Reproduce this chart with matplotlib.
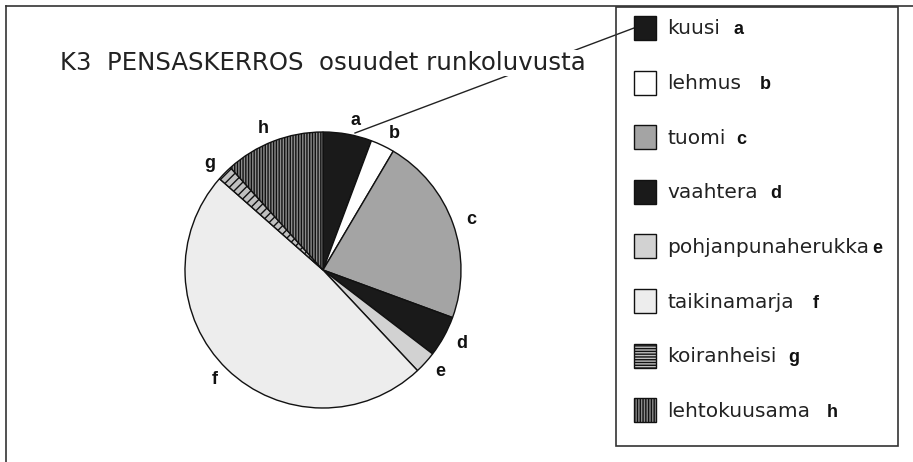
import matplotlib
matplotlib.use("Agg")
import matplotlib.pyplot as plt
from matplotlib.patches import Rectangle
from matplotlib.lines import Line2D

# ---- data ----
letters = ["a", "b", "c", "d", "e", "f", "g", "h"]
names = ["kuusi", "lehmus", "tuomi", "vaahtera", "pohjanpunaherukka",
         "taikinamarja", "koiranheisi", "lehtokuusama"]
shares = [5.7, 2.8, 22.1, 4.8, 2.6, 48.5, 1.8, 11.7]
title = "K3  PENSASKERROS  osuudet runkoluvusta"

# ---- styles ----
colors = ["#1a1a1a", "#ffffff", "#a4a4a4", "#1a1a1a", "#d2d2d2", "#ededed", "#c0c0c0", "#8c8c8c"]
pie_hatches = [None, None, None, None, None, None, "////", "||||||"]
leg_hatches = [None, None, None, None, None, None, "------", "||||||"]
letter_gaps = [14, 19, 11, 13, 3, 19, 12, 17]

W, H = 913, 462
fig = plt.figure(figsize=(W / 100, H / 100), dpi=100)
fig.patch.set_facecolor("white")

def fx(px):
    return px / W

def fy(py):
    return 1 - py / H

# outer frame (partly cropped)
fig.add_artist(Line2D([fx(6), fx(6)], [fy(6), fy(462)], color="#333333", lw=1.2))
fig.add_artist(Line2D([fx(6), fx(913)], [fy(6), fy(6)], color="#333333", lw=1.2))

# pie axes: centre (323,270), radius 138 px
R = 138
lim = 1.3
side = 2 * lim * R
ax = fig.add_axes([fx(323 - side / 2), fy(270 + side / 2), side / W, side / H])
wedges, texts = ax.pie(shares, labels=letters, colors=colors, startangle=90,
                       counterclock=False, labeldistance=1.1,
                       wedgeprops=dict(edgecolor="#111111", linewidth=1.0),
                       textprops=dict(fontsize=13, fontweight="bold",
                                      family="Liberation Sans", color="#111111"))
for w, h in zip(wedges, pie_hatches):
    if h:
        w.set_hatch(h)
ax.set_xlim(-lim, lim)
ax.set_ylim(-lim, lim)
ax.set_aspect("equal")
ax.axis("off")

# leader line from label a to legend (drawn beneath the title)
fig.add_artist(Line2D([fx(355), fx(634)], [fy(133), fy(28)], color="#222222",
                      lw=1.0, zorder=1))

# title with white background that interrupts the leader line
fig.text(fx(60), fy(63), title, fontsize=17.6, family="DejaVu Sans",
         color="#222222", va="center", ha="left", zorder=5,
         bbox=dict(facecolor="white", edgecolor="none", pad=0.5))

# legend box
fig.add_artist(Rectangle((fx(616), fy(446)), fx(898) - fx(616), fy(7) - fy(446),
                         fill=False, edgecolor="#333333", lw=1.2, zorder=6))
row0, step = 28, 54.6
name_texts = []
for i, (nm, c, hh) in enumerate(zip(names, colors, leg_hatches)):
    yc = row0 + i * step
    r = Rectangle((fx(634), fy(yc + 12)), fx(656) - fx(634), fy(yc - 12) - fy(yc + 12),
                  facecolor=c, edgecolor="#111111", lw=1.0, hatch=hh, zorder=6)
    fig.add_artist(r)
    t = fig.text(fx(667), fy(yc + 1), nm, fontsize=14.5, family="DejaVu Sans",
                 color="#222222", va="center", ha="left", zorder=6)
    name_texts.append(t)

fig.canvas.draw()
rend = fig.canvas.get_renderer()
for i, t in enumerate(name_texts):
    bb = t.get_window_extent(rend)
    xpx = bb.x1 + letter_gaps[i]
    fig.text(xpx / W, fy(row0 + i * step + 2), letters[i], fontsize=13, fontweight="bold",
             family="Liberation Sans", color="#111111", va="center", ha="left", zorder=6)

fig.savefig("out.png", dpi=100, facecolor="white")
